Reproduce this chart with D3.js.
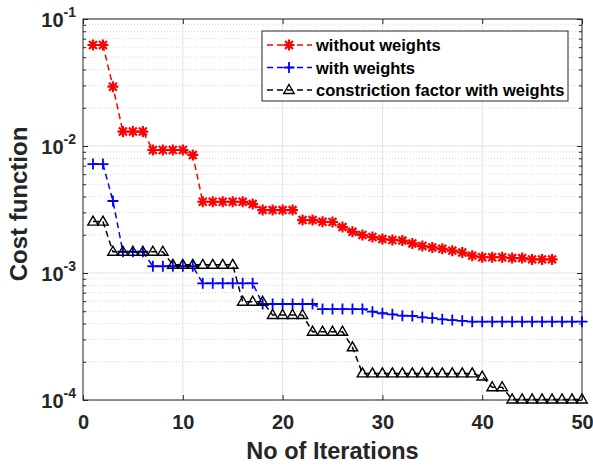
<!DOCTYPE html>
<html>
<head>
<meta charset="utf-8">
<script src="https://cdn.jsdelivr.net/npm/d3@7"></script>
<style>
  body { margin: 0; background: #fff; }
  svg { font-family: Arial, "Liberation Sans", sans-serif; font-weight: bold; }
</style>
</head>
<body>
<div id="chart"></div>
<script>
// values, one per iteration starting at 1
const withoutWeights = [0.0624, 0.0624, 0.0293, 0.0130, 0.0130, 0.0130, 0.0093, 0.0093, 0.0093, 0.0093,
  0.0085, 0.00364, 0.00364, 0.00364, 0.00364, 0.00364, 0.00349, 0.00313, 0.00313, 0.00313,
  0.00313, 0.00261, 0.00261, 0.00253, 0.00252, 0.00230, 0.00211, 0.00199, 0.00192, 0.00185,
  0.00182, 0.00180, 0.00171, 0.00163, 0.00159, 0.00155, 0.00150, 0.00145, 0.00137, 0.00133,
  0.00133, 0.00133, 0.00131, 0.00131, 0.00128, 0.00128, 0.00128];
const withWeights = [0.00721, 0.00721, 0.00369, 0.00147, 0.00147, 0.00147, 0.00113, 0.00113, 0.00113, 0.00113,
  0.00113, 0.00083, 0.00083, 0.00083, 0.00083, 0.00083, 0.00083, 0.00057, 0.00057, 0.00057,
  0.00057, 0.00057, 0.00057, 0.00052, 0.00052, 0.00052, 0.00052, 0.00052, 0.000496, 0.000482,
  0.000473, 0.000461, 0.000459, 0.000448, 0.000442, 0.000432, 0.000426, 0.00042, 0.000414, 0.000414,
  0.000414, 0.000414, 0.000414, 0.000414, 0.000414, 0.000414, 0.000414, 0.000414, 0.000414, 0.000414];
const constriction = [0.00254, 0.00254, 0.00147, 0.00147, 0.00147, 0.00147, 0.00147, 0.00147, 0.00116, 0.00116,
  0.00116, 0.00116, 0.00116, 0.00116, 0.00116, 0.000594, 0.000594, 0.000594, 0.000467, 0.000467,
  0.000467, 0.000467, 0.000345, 0.000345, 0.000345, 0.000345, 0.00026, 0.000162, 0.000162, 0.000162,
  0.000162, 0.000162, 0.000162, 0.000162, 0.000162, 0.000162, 0.000162, 0.000162, 0.000162, 0.000153,
  0.000126, 0.000126, 0.000101, 0.000101, 0.000101, 0.000101, 0.000101, 0.000101, 0.000101, 0.000101];

const seriesNames = ["without weights", "with weights", "constriction factor with weights"];
const seriesColors = ["#ff0000", "#0000ff", "#000000"];
const xTicks = [0, 10, 20, 30, 40, 50];
const yDecades = [-4, -3, -2, -1];

const margin = { top: 19, right: 11, bottom: 66, left: 83 },
    width = 593 - margin.left - margin.right,
    height = 466 - margin.top - margin.bottom;

const svg = d3.select("#chart").append("svg")
    .attr("width", 593).attr("height", 466);
const g = svg.append("g").attr("transform", `translate(${margin.left},${margin.top})`);

const x = d3.scaleLinear().domain([0, 50]).range([0, width]);
const y = d3.scaleLog().domain([1e-4, 1e-1]).range([height, 0]);

// minor values 2..9 per decade
const minor = [];
yDecades.slice(0, 3).forEach(e => { for (let k = 2; k <= 9; k++) minor.push(k * Math.pow(10, e)); });
const major = yDecades.map(e => Math.pow(10, e));

// grid
g.selectAll(".gminor").data(minor).enter().append("line")
    .attr("x1", 0).attr("x2", width)
    .attr("y1", d => y(d)).attr("y2", d => y(d))
    .attr("stroke", "#d4d4d4").attr("stroke-width", 1).attr("stroke-dasharray", "1,2");
g.selectAll(".gmajor").data(major).enter().append("line")
    .attr("x1", 0).attr("x2", width)
    .attr("y1", d => y(d)).attr("y2", d => y(d))
    .attr("stroke", "#e2e2e2").attr("stroke-width", 1);
g.selectAll(".gx").data(xTicks.slice(1, -1)).enter().append("line")
    .attr("x1", d => x(d)).attr("x2", d => x(d))
    .attr("y1", 0).attr("y2", height)
    .attr("stroke", "#e2e2e2").attr("stroke-width", 1);

// axes, ticks pointing inward on all four sides
function styleAxis(sel) {
  sel.select(".domain").remove();
  sel.selectAll("line").attr("stroke", "#262626");
  sel.selectAll("text").attr("fill", "#262626");
}
g.append("g").attr("transform", `translate(0,${height})`)
    .call(d3.axisBottom(x).tickValues(xTicks).tickSize(-5).tickPadding(15))
    .attr("font-size", 20).attr("font-family", null)
    .call(styleAxis);
g.append("g")
    .call(d3.axisTop(x).tickValues(xTicks).tickSize(-5).tickFormat(""))
    .call(styleAxis);
const yAxis = g.append("g")
    .call(d3.axisLeft(y).tickValues(major).tickSize(-5).tickFormat(""))
    .call(styleAxis);
g.append("g").call(d3.axisLeft(y).tickValues(minor).tickSize(-3).tickFormat("")).call(styleAxis);
g.append("g").attr("transform", `translate(${width},0)`)
    .call(d3.axisRight(y).tickValues(major).tickSize(-5).tickFormat("")).call(styleAxis);
g.append("g").attr("transform", `translate(${width},0)`)
    .call(d3.axisRight(y).tickValues(minor).tickSize(-3).tickFormat("")).call(styleAxis);

// y tick labels as 10 with superscript exponent
yAxis.selectAll(".ylab").data(yDecades).enter().append("text")
    .attr("x", -7).attr("y", e => y(Math.pow(10, e)) + 8)
    .attr("text-anchor", "end").attr("fill", "#262626")
    .each(function(e) {
      const t = d3.select(this);
      t.append("tspan").attr("font-size", 20).text("10");
      t.append("tspan").attr("font-size", 14).attr("dy", -10).text(e);
    });

g.append("rect").attr("width", width).attr("height", height)
    .attr("fill", "none").attr("stroke", "#262626").attr("stroke-width", 1);

// markers
function drawMarker(sel, kind, color) {
  if (kind === 0) {
    const r = 5.5, q = r * 0.72;
    sel.append("path")
      .attr("d", `M${-r},0H${r}M0,${-r}V${r}M${-q},${-q}L${q},${q}M${-q},${q}L${q},${-q}`)
      .attr("stroke", color).attr("stroke-width", 2.2).attr("fill", "none");
  } else if (kind === 1) {
    const r = 5.5;
    sel.append("path").attr("d", `M${-r},0H${r}M0,${-r}V${r}`)
      .attr("stroke", color).attr("stroke-width", 1.8).attr("fill", "none");
  } else {
    sel.append("path").attr("d", "M0,-5.5L5.2,3.5L-5.2,3.5Z")
      .attr("stroke", color).attr("stroke-width", 1.4).attr("fill", "none");
  }
}

const allSeries = [withoutWeights, withWeights, constriction];
const line = d3.line().x((d, i) => x(i + 1)).y(d => y(d));

allSeries.forEach((vals, s) => {
  g.append("path").datum(vals)
    .attr("d", line)
    .attr("fill", "none")
    .attr("stroke", seriesColors[s])
    .attr("stroke-width", 1.5)
    .attr("stroke-dasharray", "6,4");
  g.selectAll(".m" + s).data(vals).enter().append("g")
    .attr("transform", (d, i) => `translate(${x(i + 1)},${y(d)})`)
    .each(function() { drawMarker(d3.select(this), s, seriesColors[s]); });
});

// legend
const legend = svg.append("g").attr("transform", "translate(262,31)");
legend.append("rect").attr("width", 306).attr("height", 70)
    .attr("fill", "#fff").attr("stroke", "#262626").attr("stroke-width", 1);
seriesNames.forEach((name, s) => {
  const row = legend.append("g").attr("transform", `translate(0,${14 + s * 22.5})`);
  row.append("line").attr("x1", 5).attr("x2", 50)
    .attr("stroke", seriesColors[s]).attr("stroke-width", 1.5).attr("stroke-dasharray", "6,4");
  drawMarker(row.append("g").attr("transform", "translate(27,0)"), s, seriesColors[s]);
  row.append("text").attr("x", 54).attr("y", 6)
    .attr("font-size", 16.5).attr("fill", "#000").text(name);
});

// axis titles
svg.append("text").attr("x", margin.left + width / 2).attr("y", 459)
    .attr("text-anchor", "middle").attr("font-size", 23.5).attr("fill", "#262626")
    .text("No of Iterations");
svg.append("text").attr("transform", "translate(27,204) rotate(-90)")
    .attr("text-anchor", "middle").attr("font-size", 24).attr("fill", "#262626")
    .text("Cost function");
</script>
</body>
</html>
